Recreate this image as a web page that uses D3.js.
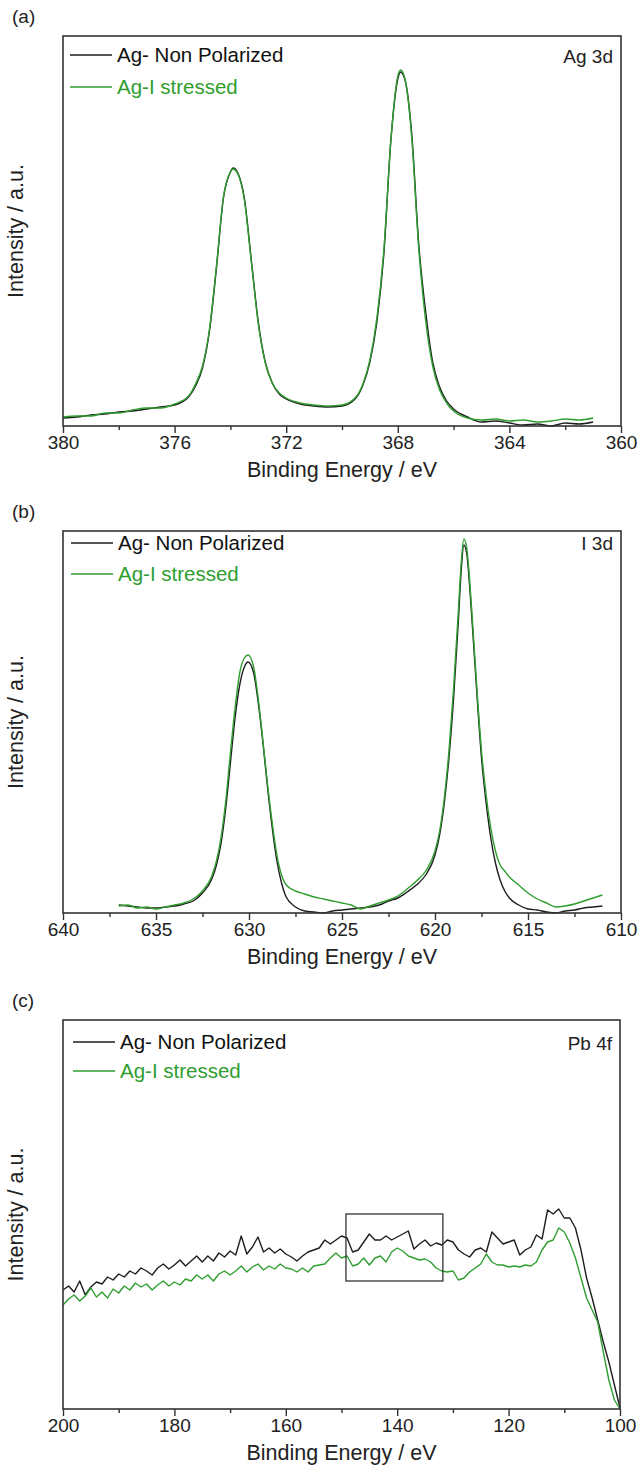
<!DOCTYPE html>
<html>
<head>
<meta charset="utf-8">
<script src="https://cdn.jsdelivr.net/npm/d3@7"></script>
<style>
  body { margin: 0; background: #fff; }
  text { font-family: "Liberation Sans", Arial, sans-serif; fill: #222; }
</style>
</head>
<body>
<div id="chart"></div>
<script>
// ---- data (intensity in arbitrary units) ----
const seriesNames = ['Ag- Non Polarized', 'Ag-I stressed']

// (a) Ag 3d
const aEnergy = [380,379.5,379,378.5,378,377.5,377,376.5,376,375.5,375.25,375,374.75,374.5,374.25,374,373.9,373.75,373.5,373.25,373,372.75,372.5,372.25,372,371.5,371,370.5,370,369.5,369.25,369,368.75,368.5,368.25,368,367.9,367.75,367.5,367.25,367,366.75,366.5,366.25,366,365.5,365,364.5,364,363.5,363,362.5,362,361.5,361]
const aNonPol = [8,9,11,12,14,15,17,19,21,29,40,58,95,158,228,254,258,254,228,166,104,64,43,32,27,22,20,19,20,28,41,64,104,172,285,347,354,347,292,182,114,64,39,25,17,9,4,5,3,1,2,0,3,2,4]
const aStressed = [9,10,10,13,13,16,18,18,22,30,42,60,97,160,229,254,257,253,226,164,102,63,43,33,28,23,21,20,21,29,42,66,108,176,285,350,356,348,288,178,105,60,36,23,15,8,6,7,5,6,4,5,7,6,8]
const aTicks = [380,376,372,368,364,360]
const aMinor = [378,374,370,366,362]

// (b) I 3d
const bEnergy = [637,636.5,636,635.5,635,634.5,634,633.5,633,632.5,632,631.75,631.5,631.25,631,630.75,630.5,630.25,630.05,629.75,629.5,629.25,629,628.75,628.5,628.25,628,627.5,627,626.5,626,625.5,625,624.5,624,623.5,623,622.5,622,621.5,621,620.5,620,619.75,619.5,619.25,619,618.75,618.6,618.45,618.3,618.15,618,617.75,617.5,617.25,617,616.75,616.5,616.25,616,615.5,615,614.5,614,613.5,613,612.5,612,611.5,611]
const bNonPol = [8,7,6,5,5,6,7,9,12,20,34,48,70,105,150,195,228,246,251,240,210,170,125,85,52,30,16,6,2,1,0,2,3,4,5,6,8,12,15,21,28,38,58,78,110,155,215,290,340,368,360,330,290,220,155,110,75,50,33,22,15,8,4,3,1,0,2,3,5,6,7]
const bStressed = [7,8,5,6,4,6,8,10,14,22,37,52,76,112,160,205,240,255,258,246,214,172,128,90,58,38,28,22,19,16,14,12,10,8,4,7,10,13,17,24,32,42,62,82,115,162,225,300,348,374,366,336,296,225,162,118,85,62,48,42,36,28,20,14,10,6,7,9,12,15,18]
const bTicks = [640,635,630,625,620,615,610]
const bMinor = [637.5,632.5,627.5,622.5,617.5,612.5]

// (c) Pb 4f, 1 eV steps from 200 to 100
const cEnergy = d3.range(200, 99, -1)
const cNonPol = [119,123,117,128,114,122,127,125,132,129,135,132,138,135,141,138,134,141,145,140,144,149,143,148,153,147,153,148,156,152,158,154,173,155,162,172,157,161,156,160,155,152,148,
  153,157,159,161,169,165,169,173,171,157,159,167,175,169,169,173,169,172,175,178,160,165,169,163,166,164,169,167,159,155,152,159,161,157,177,171,165,167,169,154,159,162,174,170,199,195,200,191,191,181,159,131,111,89,67,47,24,1]
const cStressed = [104,110,114,108,113,121,112,117,111,120,116,123,119,126,122,125,119,124,128,123,127,124,130,128,134,130,134,128,135,138,134,138,143,137,142,145,139,143,140,145,141,140,137,
  141,137,143,144,145,151,156,151,153,143,145,151,144,151,153,147,157,161,158,153,151,149,150,147,141,138,137,138,129,131,137,141,145,155,147,144,144,142,143,142,144,143,147,159,167,169,181,177,166,151,131,111,99,87,57,29,9,0]
const cTicks = [200,180,160,140,120,100]
const cMinor = [190,170,150,130,110]
const cBoxEnergy = [149.2, 131.8]
const cBoxIntensity = [128, 195]

// ---- layout ----
const W = 639, H = 1477
const colors = ['#1e1e1e', '#2f9e2f']

const panels = [
  {tag: '(a)', title: 'Ag 3d', top: 36, h: 390, right: 621, dom: [380, 360], ymax: 390,
    energy: aEnergy, series: [aNonPol, aStressed], ticks: aTicks, minor: aMinor,
    curve: d3.curveMonotoneX, leg: {x: 7, y: 19, dy: 32}, titleY: 27},
  {tag: '(b)', title: 'I 3d', top: 531, h: 382, right: 621, dom: [640, 610], ymax: 382,
    energy: bEnergy, series: [bNonPol, bStressed], ticks: bTicks, minor: bMinor,
    curve: d3.curveMonotoneX, leg: {x: 8, y: 12, dy: 31}, titleY: 19},
  {tag: '(c)', title: 'Pb 4f', top: 1020, h: 389, right: 620, dom: [200, 100], ymax: 389,
    energy: cEnergy, series: [cNonPol, cStressed], ticks: cTicks, minor: cMinor,
    curve: d3.curveLinear, leg: {x: 10, y: 22, dy: 29}, titleY: 30, box: true}
]
const left = 63

const svg = d3.select('#chart').append('svg')
  .attr('width', W)
  .attr('height', H)

panels.forEach(p => {
  const w = p.right - left
  const x = d3.scaleLinear().domain(p.dom).range([0, w])
  const y = d3.scaleLinear().domain([0, p.ymax]).range([p.h, 0])
  const g = svg.append('g').attr('transform', `translate(${left}, ${p.top})`)

  svg.append('text')
    .attr('x', 12).attr('y', p.top - 13)
    .style('font-size', '19px')
    .text(p.tag)

  // curves
  const line = d3.line()
    .x(d => x(d[0]))
    .y(d => y(d[1]))
    .curve(p.curve)
  p.series.forEach((vals, i) => {
    g.append('path')
      .datum(p.energy.map((e, k) => [e, vals[k]]))
      .attr('d', line)
      .attr('fill', 'none')
      .attr('stroke', colors[i])
      .attr('stroke-width', 1.4)
      .attr('stroke-linejoin', 'round')
  })

  if (p.box) {
    g.append('rect')
      .attr('x', x(cBoxEnergy[0]))
      .attr('y', y(cBoxIntensity[1]))
      .attr('width', x(cBoxEnergy[1]) - x(cBoxEnergy[0]))
      .attr('height', y(cBoxIntensity[0]) - y(cBoxIntensity[1]))
      .attr('fill', 'none')
      .attr('stroke', '#333')
      .attr('stroke-width', 1.3)
  }

  // frame
  g.append('rect')
    .attr('width', w).attr('height', p.h)
    .attr('fill', 'none')
    .attr('stroke', '#333')
    .attr('stroke-width', 1.6)

  // x axis, major + minor ticks
  const ax = g.append('g').attr('transform', `translate(0, ${p.h})`)
    .call(d3.axisBottom(x).tickValues(p.ticks).tickSize(7).tickSizeOuter(0).tickPadding(3))
  ax.select('.domain').remove()
  ax.selectAll('line').attr('stroke', '#333').attr('stroke-width', 1.4)
  ax.selectAll('text').style('font-size', '19px').attr('fill', '#222')
  const mx = g.append('g').attr('transform', `translate(0, ${p.h})`)
    .call(d3.axisBottom(x).tickValues(p.minor).tickSize(4).tickFormat(''))
  mx.select('.domain').remove()
  mx.selectAll('line').attr('stroke', '#333').attr('stroke-width', 1.4)

  g.append('text')
    .attr('x', w / 2).attr('y', p.h + 51)
    .attr('text-anchor', 'middle')
    .style('font-size', '21.5px')
    .text('Binding Energy / eV')

  g.append('text')
    .attr('transform', `translate(${23 - left}, ${p.h / 2}) rotate(-90)`)
    .attr('text-anchor', 'middle')
    .style('font-size', '21.5px')
    .text('Intensity / a.u.')

  g.append('text')
    .attr('x', w - 8).attr('y', p.titleY)
    .attr('text-anchor', 'end')
    .style('font-size', '19px')
    .text(p.title)

  // legend
  seriesNames.forEach((name, i) => {
    const ly = p.leg.y + i * p.leg.dy
    g.append('line')
      .attr('x1', p.leg.x).attr('x2', p.leg.x + 42)
      .attr('y1', ly).attr('y2', ly)
      .attr('stroke', colors[i]).attr('stroke-width', 1.4)
    g.append('text')
      .attr('x', p.leg.x + 47).attr('y', ly + 7)
      .style('font-size', '20.5px')
      .style('fill', i === 0 ? '#111' : colors[i])
      .text(name)
  })
})
</script>
</body>
</html>
